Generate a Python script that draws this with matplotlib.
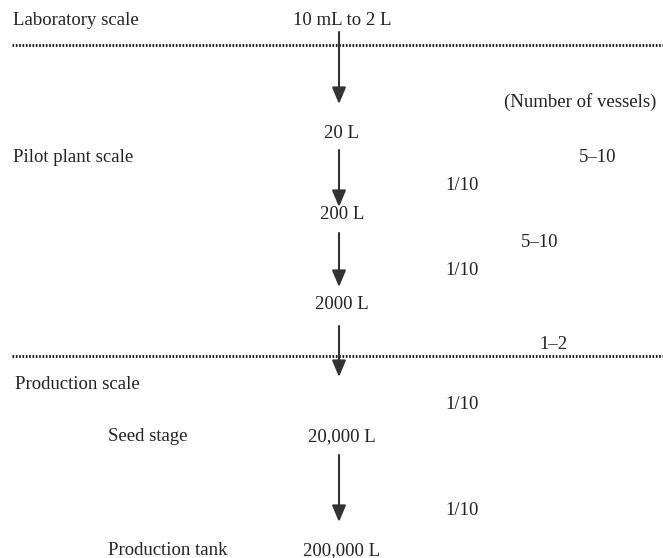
import matplotlib.pyplot as plt

# scale-up chain: vessel volumes, transfer ratios, number of vessels
volumes = ["10 mL to 2 L", "20 L", "200 L", "2000 L", "20,000 L", "200,000 L"]
ratios = ["1/10", "1/10", "1/10", "1/10"]
vessel_counts = ["5\u201310", "5\u201310", "1\u20132"]
stage_names = ["Laboratory scale", "Pilot plant scale", "Production scale",
               "Seed stage", "Production tank"]

plt.rcParams['font.family'] = ['Liberation Serif', 'DejaVu Serif']

fig = plt.figure(figsize=(6.63, 5.58), dpi=100)
ax = fig.add_axes([0, 0, 1, 1])
ax.set_xlim(0, 663)
ax.set_ylim(558, 0)
ax.axis('off')

fs = 13.5
col = '#222222'
arrow_x = 339
dy = 2.5  # text baseline tweak

# layout (pixel coords)
vol_y = [18, 131, 212, 302, 434, 548]
arrow_spans = [(32, 104), (150, 207), (233, 287), (326, 377), (455, 522)]
ratio_y = [183, 268, 402, 508]
count_pos = [(598, 155), (540, 240), (553, 342)]
stage_pos = [(13, 18), (13, 155), (15, 382), (108, 434), (108, 548)]

for v, y in zip(volumes, vol_y):
    ax.text(arrow_x + 3, y + dy, v, ha='center', va='center', fontsize=fs, color=col)

for y0, y1 in arrow_spans:
    ax.annotate('', xy=(arrow_x, y1), xytext=(arrow_x, y0),
                arrowprops=dict(arrowstyle='-|>,head_length=1.0,head_width=0.42',
                                color='#333333', lw=1.5, shrinkA=0, shrinkB=0))

for r, y in zip(ratios, ratio_y):
    ax.text(462, y + dy, r, ha='center', va='center', fontsize=fs, color=col)

for c, (x, y) in zip(vessel_counts, count_pos):
    ax.text(x, y + dy, c, ha='center', va='center', fontsize=fs, color=col)

for s, (x, y) in zip(stage_names, stage_pos):
    ax.text(x, y + dy, s, ha='left', va='center', fontsize=fs, color=col)

ax.text(656, 100 + dy, "(Number of vessels)", ha='right', va='center', fontsize=fs, color=col)

# dotted separators between scales
for y in [45, 356]:
    ax.plot([12, 663], [y, y], color='#111111', lw=2, linestyle=(0, (0.6, 0.6)))

fig.savefig('out.png', dpi=100)
